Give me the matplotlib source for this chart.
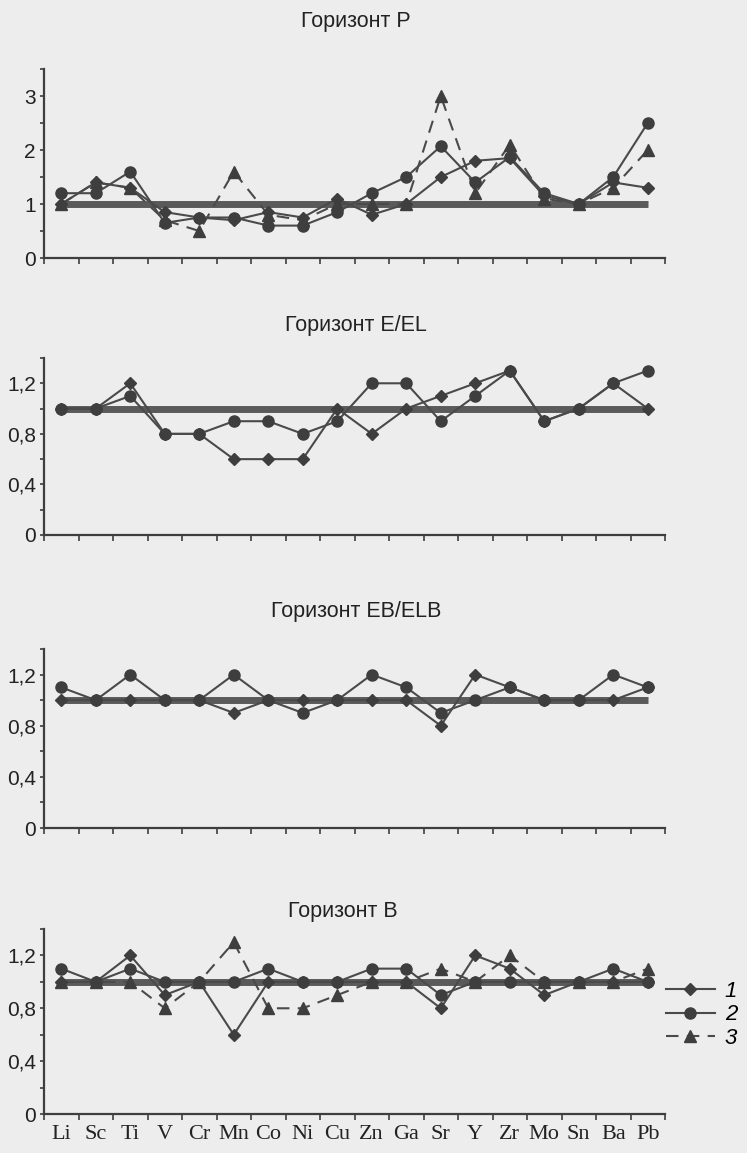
import matplotlib
matplotlib.use("Agg")
import matplotlib.pyplot as plt
import numpy as np

elements = ["Li", "Sc", "Ti", "V", "Cr", "Mn", "Co", "Ni", "Cu", "Zn",
            "Ga", "Sr", "Y", "Zr", "Mo", "Sn", "Ba", "Pb"]

titles = ["Горизонт P", "Горизонт E/EL", "Горизонт EB/ELB", "Горизонт B"]

# Горизонт P
p_s1 = [1.0, 1.4, 1.3, 0.85, 0.75, 0.7, 0.85, 0.75, 1.1, 0.8, 1.0, 1.5, 1.8, 1.85, 1.15, 1.0, 1.4, 1.3]
p_s2 = [1.2, 1.2, 1.6, 0.65, 0.75, 0.75, 0.6, 0.6, 0.85, 1.2, 1.5, 2.07, 1.4, 1.87, 1.2, 1.0, 1.5, 2.5]
p_s3 = [1.0, 1.4, 1.3, 0.7, 0.5, 1.6, 0.8, 0.7, 1.0, 1.0, 1.0, 3.0, 1.2, 2.1, 1.1, 1.0, 1.3, 2.0]

# Горизонт E/EL
e_s1 = [1.0, 1.0, 1.2, 0.8, 0.8, 0.6, 0.6, 0.6, 1.0, 0.8, 1.0, 1.1, 1.2, 1.3, 0.9, 1.0, 1.2, 1.0]
e_s2 = [1.0, 1.0, 1.1, 0.8, 0.8, 0.9, 0.9, 0.8, 0.9, 1.2, 1.2, 0.9, 1.1, 1.3, 0.9, 1.0, 1.2, 1.3]

# Горизонт EB/ELB
eb_s1 = [1.0, 1.0, 1.0, 1.0, 1.0, 0.9, 1.0, 1.0, 1.0, 1.0, 1.0, 0.8, 1.2, 1.1, 1.0, 1.0, 1.0, 1.1]
eb_s2 = [1.1, 1.0, 1.2, 1.0, 1.0, 1.2, 1.0, 0.9, 1.0, 1.2, 1.1, 0.9, 1.0, 1.1, 1.0, 1.0, 1.2, 1.1]

# Горизонт B
b_s1 = [1.0, 1.0, 1.2, 0.9, 1.0, 0.6, 1.0, 1.0, 1.0, 1.0, 1.0, 0.8, 1.2, 1.1, 0.9, 1.0, 1.0, 1.0]
b_s2 = [1.1, 1.0, 1.1, 1.0, 1.0, 1.0, 1.1, 1.0, 1.0, 1.1, 1.1, 0.9, 1.0, 1.0, 1.0, 1.0, 1.1, 1.0]
b_s3 = [1.0, 1.0, 1.0, 0.8, 1.0, 1.3, 0.8, 0.8, 0.9, 1.0, 1.0, 1.1, 1.0, 1.2, 1.0, 1.0, 1.0, 1.1]

reference_level = 1.0
legend_labels = ["1", "2", "3"]

panels = [
    dict(title=titles[0], s1=p_s1, s2=p_s2, s3=p_s3, ymax=3.5, minor=0.5,
         yticks=[0, 1, 2, 3], ylabels=["0", "1", "2", "3"]),
    dict(title=titles[1], s1=e_s1, s2=e_s2, s3=None, ymax=1.4, minor=0.2,
         yticks=[0, 0.4, 0.8, 1.2], ylabels=["0", "0,4", "0,8", "1,2"]),
    dict(title=titles[2], s1=eb_s1, s2=eb_s2, s3=None, ymax=1.4, minor=0.2,
         yticks=[0, 0.4, 0.8, 1.2], ylabels=["0", "0,4", "0,8", "1,2"]),
    dict(title=titles[3], s1=b_s1, s2=b_s2, s3=b_s3, ymax=1.4, minor=0.2,
         yticks=[0, 0.4, 0.8, 1.2], ylabels=["0", "0,4", "0,8", "1,2"]),
]

# pixel layout: (y of zero, y of top, title y)
W, H = 747, 1153
layout = [(258, 69, 22), (535, 358, 325), (828, 649, 612), (1114, 929, 912)]
title_x = [356, 356, 356, 343]
x_left, x_right = 44, 665

bg = "#ededed"
ink = "#3e3e3e"
line_c = "#4a4a4a"
ref_c = "#5a5a5a"

fig = plt.figure(figsize=(W / 100, H / 100), dpi=100, facecolor=bg)

sans = ["Liberation Sans Narrow", "Liberation Sans", "DejaVu Sans"]
serif = ["Liberation Serif", "DejaVu Serif"]

x = np.arange(len(elements))
handles = None
for i, (pnl, (y0, ytop, ty)) in enumerate(zip(panels, layout)):
    ax = fig.add_axes([x_left / W, 1 - y0 / H, (x_right - x_left) / W, (y0 - ytop) / H])
    ax.set_facecolor("none")
    ax.set_xlim(-0.5, len(elements) - 0.5)
    ax.set_ylim(0, pnl["ymax"])
    for s in ["top", "right"]:
        ax.spines[s].set_visible(False)
    for s in ["left", "bottom"]:
        ax.spines[s].set_color(ink)
        ax.spines[s].set_linewidth(1.6)

    ax.plot([x[0], x[-1]], [reference_level, reference_level], color=ref_c, lw=5,
            solid_capstyle="butt", zorder=2)
    h1, = ax.plot(x, pnl["s1"], color=line_c, lw=1.5, marker="D", ms=6.5,
                  mfc=ink, mec=ink, zorder=4)
    h2, = ax.plot(x, pnl["s2"], color=line_c, lw=1.5, marker="o", ms=8,
                  mfc=ink, mec=ink, zorder=4)
    if pnl["s3"] is not None:
        h3, = ax.plot(x, pnl["s3"], color=line_c, lw=1.5, ls=(0, (6, 4)), marker="^",
                      ms=8, mfc=ink, mec=ink, zorder=3)
        if i == 3:
            handles = [h1, h2, h3]

    # y ticks
    ax.set_yticks(np.arange(0, pnl["ymax"] + 1e-9, pnl["minor"]), minor=True)
    ax.set_yticks(pnl["yticks"])
    ax.set_yticklabels(pnl["ylabels"], family=sans, fontsize=15, color="#222222")
    ax.tick_params(axis="y", which="both", direction="out", length=3, width=1.2,
                   color=ink, pad=3)

    # x ticks: marks between categories, labels at centres (last panel only)
    ax.set_xticks(np.arange(-0.5, len(elements), 1.0), minor=True)
    ax.set_xticks(x)
    ax.tick_params(axis="x", which="minor", direction="out", length=4, width=1.2, color=ink)
    ax.tick_params(axis="x", which="major", length=0, pad=8)
    if i == 3:
        ax.set_xticklabels(elements, family=serif, fontsize=16, color="#222222")
    else:
        ax.set_xticklabels([])

    fig.text(title_x[i] / W, 1 - ty / H, pnl["title"], ha="center", va="center",
             family=sans, fontsize=15.5, color="#222222")

fig.legend(handles, legend_labels, loc="center left", bbox_to_anchor=(666 / W, 1 - 1015 / H),
           frameon=False, handlelength=2.2, handletextpad=0.45, labelspacing=0.12,
           borderpad=0, borderaxespad=0, prop=dict(family=sans, style="italic", size=16))

fig.savefig("out.png", dpi=100, facecolor=bg)
